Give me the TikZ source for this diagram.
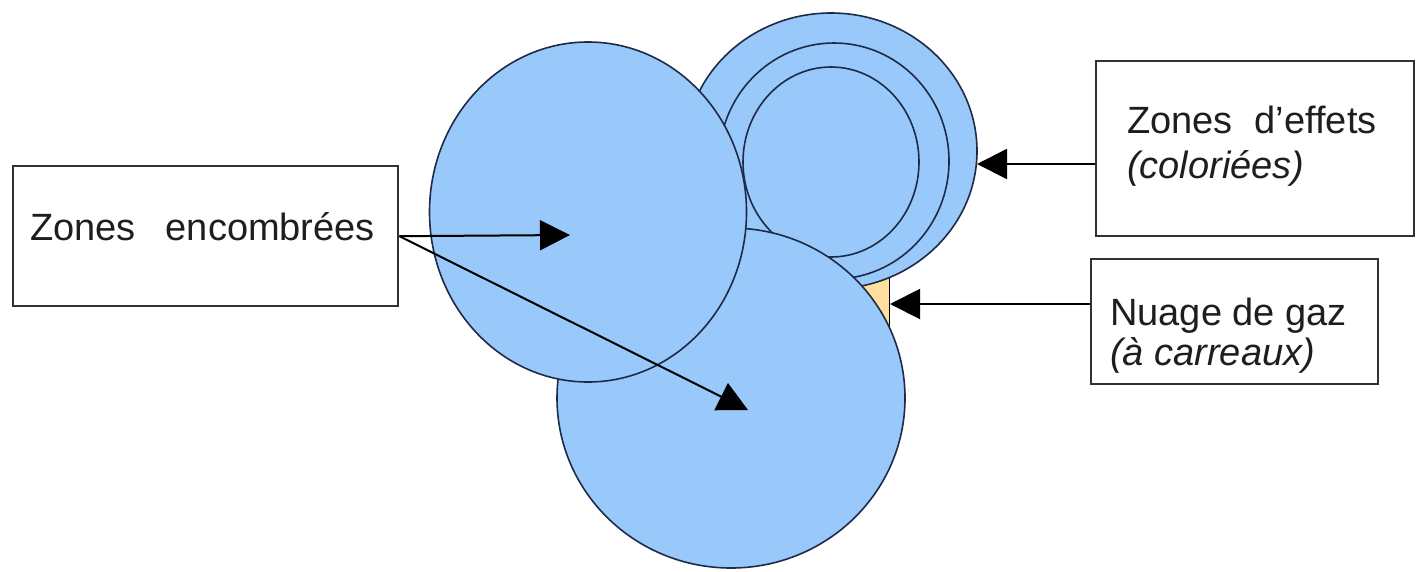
\documentclass[tikz,border=0pt]{standalone}
\usepackage{fontspec}
\setmainfont{Liberation Sans}
\usetikzlibrary{arrows.meta,shapes.geometric}
\definecolor{zblue}{RGB}{153,201,250}
\definecolor{zline}{RGB}{30,42,70}
\definecolor{gasfill}{RGB}{255,222,160}
\definecolor{boxline}{RGB}{50,50,50}
\definecolor{txt}{RGB}{30,30,30}
\begin{document}
\begin{tikzpicture}[x=1pt,y=-1pt,
  zone/.style={ellipse, draw=zline, line width=1.6pt, fill=zblue, inner sep=0pt, outer sep=0pt},
  lbox/.style={draw=boxline, line width=2.4pt, fill=white, rectangle, inner sep=0pt, anchor=north west},
  lbl/.style={anchor=base west, text=txt, font=\fontsize{38}{45}\selectfont, inner sep=0pt},
  arr/.style={line width=2pt, draw=black, -{Triangle[length=30pt,width=30pt]}}]
\useasboundingbox (0,0) rectangle (1421,571);
\fill[white] (0,0) rectangle (1421,571);
% gas cloud (mostly hidden)
\node[draw=black, line width=1.2pt, fill=gasfill, minimum width=60pt, minimum height=100pt, inner sep=0pt, anchor=east] (gaz) at (890,300) {};
% effect zones
\node[zone, minimum width=292pt, minimum height=276pt] (outer) at (831,151) {};
\node[zone, minimum width=230pt, minimum height=236pt] (middle) at (834,161) {};
\node[zone, minimum width=176pt, minimum height=190pt] (inner) at (831,162) {};
% encumbered zones
\node[zone, minimum width=348pt, minimum height=340pt] (bottom) at (731,398) {};
\node[zone, minimum width=317pt, minimum height=340pt] (left) at (588,212) {};
% boxes
\node[lbox, minimum width=385pt, minimum height=140pt] (enc) at (12,165) {};
\node[lbox, minimum width=318pt, minimum height=175pt] (eff) at (1095,60) {};
\node[lbox, minimum width=287pt, minimum height=125pt] (nua) at (1090,258) {};
% texts
\node[lbl] (enctxt) at (30,240) {Zones\hspace{30pt}encombrées};
\node[lbl] (efftxt) at (1127,133) {Zones\hspace{22pt}d’effets};
\node[lbl, font=\fontsize{38}{45}\selectfont\itshape] (efftxtb) at (1127,178) {(coloriées)};
\node[lbl] (nuatxt) at (1110,325) {Nuage de gaz};
\node[lbl, font=\fontsize{38}{45}\selectfont\itshape] (nuatxtb) at (1110,365) {(à carreaux)};
% arrow tips
\coordinate (t1) at (570,235);
\coordinate (t2) at (748,410);
\coordinate (t3) at (977,164);
\coordinate (t4) at (890,304);
% connectors
\draw[arr] (enc.east) -- (t1);
\draw[arr] (enc.east) -- (t2);
\draw[arr] (eff.west |- t3) -- (t3);
\draw[arr] (nua.west |- t4) -- (t4);
\end{tikzpicture}
\end{document}
